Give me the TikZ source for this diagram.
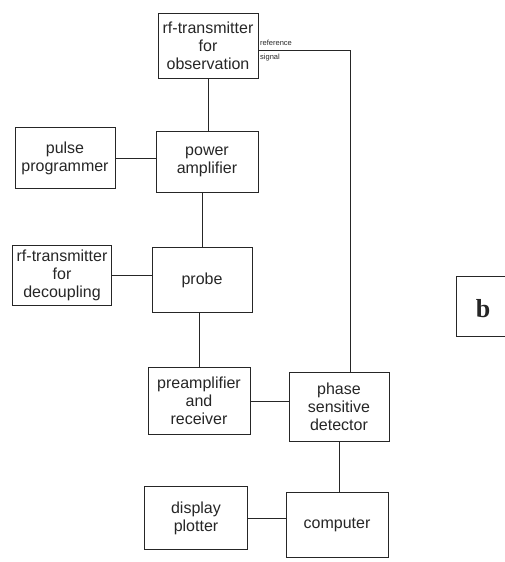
\documentclass[tikz,border=0pt]{standalone}
\usepackage{fontspec}
\setmainfont{Liberation Sans}
\newfontfamily\serifb{Liberation Serif}
\begin{document}
\begin{tikzpicture}[x=1pt,y=-1pt,
  blk/.style={draw=black!85, line width=0.9pt, align=center, inner sep=0pt,
    font=\fontsize{16}{18}\selectfont, text=black!85},
  wire/.style={draw=black!85, line width=0.9pt},
  tiny/.style={font=\fontsize{7.5}{8}\selectfont, text=black!85, inner sep=0pt, anchor=west}]
\useasboundingbox (0,0) rectangle (505,562);
\node[blk, minimum width=100, minimum height=65] (obs) at (208,46) {rf-transmitter\\for\\observation};
\node[blk, minimum width=100, minimum height=61] (pulse) at (65,158) {pulse\\programmer};
\node[blk, minimum width=102, minimum height=61] (power) at (207,162) {power\\amplifier};
\node[blk, minimum width=99, minimum height=60] (dec) at (62,275) {rf-transmitter\\for\\decoupling};
\node[blk, minimum width=100, minimum height=65] (probe) at (202,280) {probe};
\node[blk, minimum width=102, minimum height=67] (pre) at (199,401) {preamplifier\\and\\receiver};
\node[blk, minimum width=100, minimum height=69] (psd) at (339,407) {phase\\sensitive\\detector};
\node[blk, minimum width=103, minimum height=63] (disp) at (196,518) {display\\plotter};
\node[blk, minimum width=102, minimum height=65] (comp) at (337,525) {computer};
% vertical chain
\draw[wire] (obs.south) -- (obs.south |- power.north);
\draw[wire] (power.south -| probe.north) -- (probe.north);
\draw[wire] (probe.south -| pre.north) -- (pre.north);
\draw[wire] (psd.south) -- (psd.south |- comp.north);
% horizontal links
\draw[wire] (pulse.east) -- (pulse.east -| power.west);
\draw[wire] (dec.east) -- (dec.east -| probe.west);
\draw[wire] (pre.east) -- (pre.east -| psd.west);
\draw[wire] (disp.east) -- (disp.east -| comp.west);
% reference signal
\coordinate (rs) at (258,50);
\coordinate (rc) at (350,50);
\draw[wire] (rs) -- (rc) -- (rc |- psd.north);
\node[tiny] (lref) at (260,43) {reference};
\node[tiny] (lsig) at (260,58) {signal};
% panel label
\draw[wire] (510,276) -- (456,276) -- (456,336) -- (510,336);
\node[font=\serifb\bfseries\fontsize{26}{28}\selectfont, text=black!85] (lb) at (483,309) {b};
\end{tikzpicture}
\end{document}
